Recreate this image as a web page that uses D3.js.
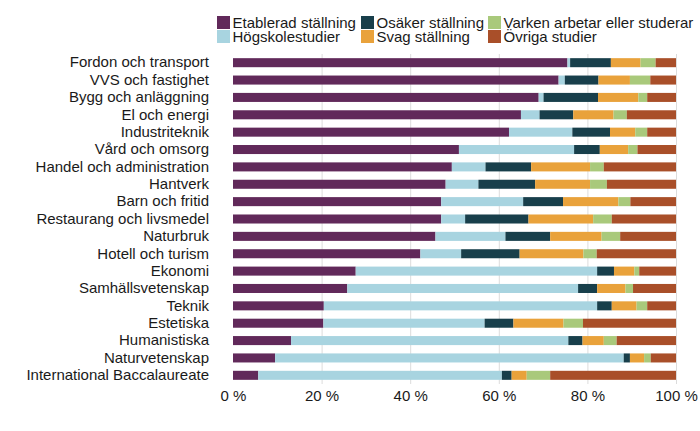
<!DOCTYPE html>
<html>
<head>
<meta charset="utf-8">
<script src="https://cdn.jsdelivr.net/npm/d3@7"></script>
<style>
  body { margin: 0; background: #fff; }
  svg text { font-family: "Liberation Sans", Arial, sans-serif; fill: #1a1a1a; }
</style>
</head>
<body>
<div id="bars"></div>
<script>
const width = 700;
const height = 431;

// Program categories (top to bottom)
const categories = [
  "Fordon och transport", "VVS och fastighet", "Bygg och anläggning", "El och energi",
  "Industriteknik", "Vård och omsorg", "Handel och administration", "Hantverk",
  "Barn och fritid", "Restaurang och livsmedel", "Naturbruk", "Hotell och turism",
  "Ekonomi", "Samhällsvetenskap", "Teknik", "Estetiska", "Humanistiska",
  "Naturvetenskap", "International Baccalaureate"
];

// Shares in percent, one array per series, same order as categories
const etablerad = [75.5, 73.5, 69.0, 65.0, 62.3, 51.0, 49.4, 48.0, 47.0, 47.0, 45.7, 42.3, 27.7, 25.8, 20.5, 20.4, 13.1, 9.5, 5.7];
const hogskola  = [0.6, 1.4, 1.1, 4.2, 14.3, 26.0, 7.6, 7.4, 18.5, 5.4, 15.8, 9.2, 54.5, 52.1, 61.7, 36.4, 62.6, 78.7, 55.0];
const osaker    = [9.2, 7.6, 12.3, 7.6, 8.5, 5.8, 10.3, 12.8, 9.0, 14.3, 10.1, 13.2, 3.8, 4.3, 3.3, 6.5, 3.2, 1.4, 2.2];
const svag      = [6.7, 7.1, 9.1, 9.1, 5.7, 6.4, 13.3, 12.4, 12.5, 14.6, 11.6, 14.4, 4.6, 6.4, 5.6, 11.3, 4.8, 3.2, 3.4];
const varken    = [3.4, 4.6, 2.0, 3.0, 2.7, 2.1, 3.1, 3.8, 2.7, 4.2, 4.2, 3.0, 1.1, 1.7, 2.4, 4.4, 2.9, 1.5, 5.3];
const ovriga    = [4.6, 5.8, 6.5, 11.1, 6.5, 8.7, 16.3, 15.6, 10.3, 14.5, 12.6, 17.9, 8.3, 9.7, 6.5, 21.0, 13.4, 5.7, 28.4];

const seriesInfo = [
  { id: "etablerad", label: "Etablerad ställning", values: etablerad, color: "#61295a" },
  { id: "hogskola", label: "Högskolestudier", values: hogskola, color: "#a8d4e0" },
  { id: "osaker", label: "Osäker ställning", values: osaker, color: "#183f4b" },
  { id: "svag", label: "Svag ställning", values: svag, color: "#e9a23b" },
  { id: "varken", label: "Varken arbetar eller studerar", values: varken, color: "#a9c97b" },
  { id: "ovriga", label: "Övriga studier", values: ovriga, color: "#a94f29" }
];

const xTicks = [0, 20, 40, 60, 80, 100];

// Build rows for the stack generator
const data = categories.map((c, i) => {
  const row = { category: c };
  seriesInfo.forEach(s => row[s.id] = s.values[i]);
  return row;
});

const margin = { top: 54, right: 24, bottom: 47, left: 233 };
const innerWidth = width - margin.left - margin.right;
const innerHeight = height - margin.top - margin.bottom;

const svg = d3.select("#bars")
  .append("svg")
  .attr("width", width)
  .attr("height", height)
  .attr("viewBox", [0, 0, width, height]);

const innerChart = svg
  .append("g")
  .attr("transform", `translate(${margin.left}, ${margin.top})`);

const xScale = d3.scaleLinear()
  .domain([0, 100])
  .range([0, innerWidth]);

const yScale = d3.scaleBand()
  .domain(categories)
  .range([0, innerHeight])
  .paddingInner(0.48)
  .paddingOuter(0.24);

const colorScale = d3.scaleOrdinal()
  .domain(seriesInfo.map(s => s.id))
  .range(seriesInfo.map(s => s.color));

// Gridlines
innerChart.append("g")
  .selectAll("line")
  .data(xTicks.slice(1))
  .join("line")
    .attr("x1", d => xScale(d) + 0.5)
    .attr("x2", d => xScale(d) + 0.5)
    .attr("y1", 0)
    .attr("y2", innerHeight)
    .attr("stroke", "#dcdcdc")
    .attr("stroke-width", 1);

// Stacked bars
const stackGenerator = d3.stack()
  .keys(seriesInfo.map(s => s.id));
const annotatedData = stackGenerator(data);

annotatedData.forEach(series => {
  innerChart
    .selectAll(`.bar-${series.key}`)
    .data(series)
    .join("rect")
      .attr("class", `bar-${series.key}`)
      .attr("x", d => xScale(d[0]))
      .attr("y", d => yScale(d.data.category))
      .attr("width", d => xScale(d[1]) - xScale(d[0]))
      .attr("height", yScale.bandwidth())
      .attr("fill", colorScale(series.key));
});

// Bottom axis
const bottomAxis = d3.axisBottom(xScale)
  .tickValues(xTicks)
  .tickSize(0)
  .tickPadding(6)
  .tickFormat(d => `${d} %`);

innerChart
  .append("g")
  .attr("transform", `translate(0, ${innerHeight})`)
  .call(bottomAxis)
  .call(g => g.select(".domain").remove())
  .call(g => g.selectAll("text")
    .style("font-size", "15px")
    .style("font-family", "'Liberation Sans', Arial, sans-serif")
    .attr("fill", "#1a1a1a"));

// Left axis (category labels)
const leftAxis = d3.axisLeft(yScale)
  .tickSize(0)
  .tickPadding(24);

innerChart
  .append("g")
  .call(leftAxis)
  .call(g => g.select(".domain").remove())
  .call(g => g.selectAll("text")
    .style("font-size", "15px")
    .style("font-family", "'Liberation Sans', Arial, sans-serif")
    .attr("fill", "#1a1a1a"));

// Legend, two rows, filled column by column
const legendCols = [217, 361, 488];
const legendRows = [16, 30];
const legend = svg.append("g");
seriesInfo.forEach((s, i) => {
  const col = Math.floor(i / 2);
  const row = i % 2;
  const g = legend.append("g")
    .attr("transform", `translate(${legendCols[col]}, ${legendRows[row]})`);
  g.append("rect")
    .attr("width", 13)
    .attr("height", 13)
    .attr("fill", s.color);
  g.append("text")
    .attr("x", 15.5)
    .attr("y", 11.5)
    .style("font-size", "15px")
    .text(s.label);
});
</script>
</body>
</html>
